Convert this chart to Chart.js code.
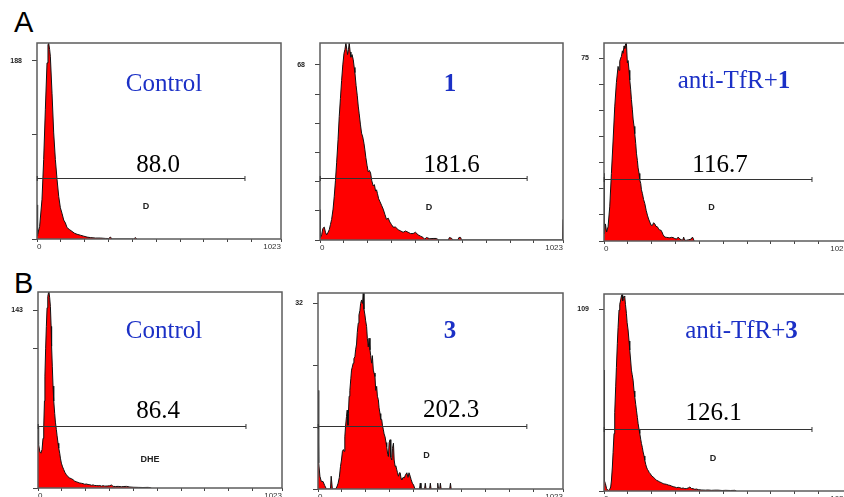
<!DOCTYPE html>
<html>
<head>
<meta charset="utf-8">
<script src="https://cdn.jsdelivr.net/npm/chart.js@4.4.0/dist/chart.umd.min.js"></script>
<style>
  html, body { margin: 0; padding: 0; background: #fff; }
  #wrap { position: relative; width: 844px; height: 497px; overflow: hidden; }
  #wrap canvas { position: absolute; }
  .letter { position: absolute; font-family: "Liberation Sans", Arial, sans-serif; font-size: 29px; line-height: 1; color: #000; }
</style>
</head>
<body>
<div id="wrap">
  <div class="letter" style="left:14px; top:8px;">A</div>
  <div class="letter" style="left:14px; top:269px;">B</div>
</div>
<script>
// histogram channels (0-1023) and event counts, row A then row B
const chA1  = [0, 1, 4, 11, 21, 28, 35, 42, 46, 49, 53, 56, 63, 70, 77, 84, 91, 98, 105, 112, 119, 126, 136, 147, 158, 168, 182, 196, 210, 224, 245, 266, 287, 300, 308, 315, 405, 413, 418];
const cntA1 = [36, 3, 5, 13, 42, 84, 137, 186, 205, 207, 200, 193, 154, 112, 84, 63, 45, 33, 27, 20, 17, 12, 10, 8, 6, 5, 4, 3, 2, 1.5, 1, 1, 0.6, 0.5, 2, 0, 0, 1.5, 0];

const chA2  = [0, 2, 7, 12, 18, 23, 28, 34, 39, 44, 49, 55, 60, 65, 70, 76, 81, 86, 91, 96, 101, 105, 109, 113, 116, 120, 123, 127, 130, 135, 140, 144, 147, 152, 157, 161, 165, 170, 175, 180, 185, 189, 193, 198, 203, 208, 213, 218, 224, 229, 234, 238, 242, 247, 252, 259, 266, 273, 280, 287, 294, 301, 308, 318, 329, 340, 350, 360, 371, 381, 392, 402, 413, 423, 434, 441, 448, 462, 476, 490, 500, 540, 545, 555, 560, 580, 585, 592, 596, 1021, 1023];
const cntA2 = [11.7, 1, 2, 4.5, 5, 3, 2, 3, 4, 6, 8, 12, 17, 23, 30, 39, 48, 55, 62, 68, 72.5, 74, 76.5, 74, 72, 74, 76.5, 73, 71, 72, 70, 67, 65, 60, 56, 52, 49, 45, 41.5, 40, 37.6, 35, 32, 29, 26.5, 27, 26, 23, 21, 21.5, 19, 19.5, 18, 16, 15, 13.5, 12, 10, 8, 8.5, 7, 6, 5, 5, 4, 3.5, 3, 3.5, 3, 2.5, 2.5, 3, 2, 1.5, 1, 0.3, 1, 0.5, 0.6, 0.6, 0, 0, 1, 0.6, 0, 0, 1, 1, 0, 0, 8];

const chA3  = [0, 2, 6, 11, 17, 24, 31, 38, 45, 52, 59, 63, 66, 70, 73, 77, 80, 84, 87, 91, 94, 98, 101, 105, 108, 112, 115, 119, 122, 126, 129, 133, 136, 140, 143, 147, 150, 154, 157, 161, 166, 171, 177, 182, 187, 192, 197, 203, 208, 213, 218, 224, 229, 234, 238, 243, 248, 255, 262, 269, 276, 283, 290, 297, 304, 311, 318, 325, 330, 334, 338, 345, 355, 365, 371, 375, 378];
const cntA3 = [27.7, 3, 7, 3.7, 5.8, 14, 27.7, 41, 55, 65, 71.6, 70, 73.7, 75, 75.7, 78, 77, 80, 79, 81, 81.2, 73, 74, 70, 66, 62, 58, 53.8, 50, 47, 44, 40, 36, 33, 30, 27.7, 25, 23.6, 21, 19.5, 17, 15.4, 12.5, 10.6, 9, 7.8, 6.5, 6.4, 7.5, 7, 6, 5.8, 5, 4.4, 4.5, 3.7, 2.5, 1.6, 1.5, 1.4, 1.3, 1.5, 1.4, 1, 0.8, 1.6, 0.8, 0.5, 0.3, 1.6, 0.3, 0.3, 0.5, 0.8, 1.6, 0.8, 0];

const chB1  = [0, 1, 4, 8, 12, 17, 21, 24, 27, 29, 32, 35, 38, 41, 44, 46, 49, 52, 55, 57, 60, 63, 66, 70, 73, 77, 80, 84, 87, 91, 94, 98, 103, 108, 113, 119, 126, 133, 140, 147, 154, 161, 168, 175, 182, 189, 196, 203, 210, 217, 224, 231, 238, 245, 252, 259, 266, 273, 280, 290, 300, 308, 315, 325, 336, 350, 360, 371, 385, 400, 420, 440, 462, 475];
const cntB1 = [49, 38, 35, 29, 28, 31, 40, 49, 70, 90, 112, 130, 145, 154, 157, 157.7, 153, 146, 130, 114, 98, 82, 70, 60, 53, 47, 42, 36, 32, 28, 24, 20, 17, 14.7, 12.5, 10.7, 9, 8, 7.5, 6.7, 5.5, 5, 4.5, 4, 3.8, 3.5, 3, 3.2, 2.8, 2.7, 2.2, 2.5, 2, 2, 1.8, 2, 1.5, 1.9, 1.5, 1.6, 1.8, 2.4, 1.3, 1.2, 1.3, 1, 1.2, 1.3, 0.8, 0.6, 0.5, 0.4, 0.5, 0];

const chB2  = [0, 2, 4, 8, 14, 21, 28, 35, 52, 55, 58, 60, 74, 80, 84, 89, 94, 98, 102, 106, 109, 112, 115, 119, 122, 125, 127, 130, 133, 137, 140, 143, 147, 150, 154, 157, 161, 164, 168, 171, 175, 178, 182, 186, 189, 192, 196, 199, 203, 206, 210, 213, 217, 220, 224, 227, 231, 234, 238, 241, 245, 248, 252, 255, 259, 262, 266, 269, 273, 276, 280, 284, 287, 291, 294, 297, 301, 304, 308, 311, 315, 318, 322, 325, 329, 332, 336, 340, 343, 347, 350, 355, 360, 365, 371, 376, 380, 385, 389, 394, 399, 405, 424, 427, 430, 445, 448, 451, 466, 469, 472, 497, 500, 503, 508, 511, 514, 550, 553, 556];
const cntB2 = [17, 8, 4.5, 2.2, 1.3, 1.3, 0.6, 0, 0, 2.2, 2.2, 0, 0, 0.5, 1, 2, 3.9, 5, 6.5, 6.8, 6.5, 9, 10.8, 12.5, 13.6, 11, 13, 16, 17, 19, 20.5, 21, 21.7, 22.5, 22.8, 24, 25, 27, 28.6, 30, 30.8, 32, 32.6, 32, 33.8, 31, 30, 29, 28, 26, 24.5, 26, 24, 23, 21.7, 23, 20.5, 20, 19.4, 17, 17.7, 16, 15.4, 14, 13, 12, 12, 11, 10.2, 9.5, 9, 8, 7.3, 6, 5.6, 8, 8.5, 5.5, 5, 7, 7.9, 5, 3.9, 4, 3.3, 2.8, 2.2, 2.8, 2.8, 1.8, 1.6, 2, 1.9, 2.4, 2.8, 2, 2.8, 2.2, 1.6, 1, 0.7, 0, 0, 1, 0, 0, 1, 0, 0, 1, 0, 0, 1, 0, 0, 1, 0, 0, 1, 0];

const chB3  = [0, 1, 3, 6, 11, 16, 20, 24, 28, 31, 35, 38, 42, 45, 49, 52, 56, 59, 63, 66, 70, 73, 76, 78, 81, 84, 87, 90, 94, 97, 101, 105, 108, 112, 115, 118, 122, 126, 129, 133, 136, 140, 143, 147, 150, 154, 157, 161, 164, 168, 171, 175, 178, 182, 185, 190, 194, 200, 206, 213, 220, 227, 234, 241, 248, 255, 262, 269, 276, 283, 290, 297, 304, 311, 318, 325, 332, 339, 346, 353, 360, 367, 374, 381, 388, 395, 410, 425, 437, 450, 465, 478, 495, 510, 530, 548, 555];
const cntB3 = [72.5, 10, 6, 4.4, 1.4, 0.5, 0.4, 1, 2.4, 6, 14.4, 23, 34.5, 47, 62.5, 74, 88.6, 98, 108.6, 112, 114.6, 117, 118, 114, 115.6, 117, 116.6, 112, 106.6, 101, 96.6, 90, 84.6, 78, 72.5, 70, 66.5, 60, 56.5, 52, 48.5, 44, 40.5, 37, 34.5, 31, 28.5, 26, 23.4, 21, 18.4, 16, 14.4, 13, 12.4, 11, 10.4, 9, 8.4, 7.5, 6.4, 6, 5.4, 5, 4.4, 4.2, 4, 3.6, 3.4, 3, 2.6, 2.4, 2, 2.2, 2, 1.6, 1.8, 1.4, 1.5, 1.8, 2.4, 1.5, 1.4, 1, 1.2, 0.8, 0.6, 0.5, 0.6, 0.4, 0.5, 0.5, 0.3, 0.4, 0.3, 0.4, 0];

const panelTitles = ['Control', '1', 'anti-TfR+1', 'Control', '3', 'anti-TfR+3'];
const titleBold   = ['', '1', '1', '', '3', '3'];
const meanValues  = ['88.0', '181.6', '116.7', '86.4', '202.3', '126.1'];
const gateTags    = ['D', 'D', 'D', 'DHE', 'D', 'D'];
const gateLevels  = [64.7, 24.2, 25.4, 50, 10.9, 37.5];
const gateRange   = [1, 872];
const countMax    = [207, 76.5, 81.2, 157.7, 33.8, 118.2];
const countLabels = [188, 68, 75, 143, 32, 109];
const countTicks  = [
  [0, 110, 188],
  [0, 11.33, 22.67, 34, 45.33, 56.67, 68],
  [0, 10.71, 21.43, 32.14, 42.86, 53.57, 64.29, 75],
  [0, 112, 143],
  [0, 10.67, 21.33, 32],
  [0, 109]
];
const channelTicks = [0, 100, 200, 300, 400, 500, 600, 700, 800, 900, 1023];

const channels = [chA1, chA2, chA3, chB1, chB2, chB3];
const counts   = [cntA1, cntA2, cntA3, cntB1, cntB2, cntB3];

// plot boxes on the page: left, top, width, height
const plotBoxes = [
  [37, 43, 244, 196], [320, 43, 243, 197], [604, 43, 244, 198],
  [38, 292, 244, 196], [318, 293, 245, 196], [604, 294, 244, 197]
];
// text spots inside each plot (offsets from plot top-left)
const titleAt = [[127, 47.7], [130, 47.7], [130, 45.3], [126, 46.3], [132, 45.3], [137.5, 44.3]];
const valueAt = [[121, 128.7], [131.7, 128.7], [116, 128.7], [120, 125.7], [133, 124.3], [109.5, 126]];
const tagAt   = [[109, 164], [109, 164.7], [107.4, 165], [112, 168], [108.4, 162.7], [109, 164.3]];

// the y scale reserves half a label + tick padding above the plot, so keep padTop above that
const axisW = 36, axisH = 16, padTop = 16, padRight = 6;
const sans = '"Liberation Sans", Arial, sans-serif';
const serif = '"Liberation Serif", "Times New Roman", serif';

const panelDecor = {
  id: 'panelDecor',
  afterDraw(chart, args, o) {
    const { ctx, chartArea: a, scales: { x, y } } = chart;
    const i = o.idx;
    ctx.save();

    // frame
    ctx.strokeStyle = '#5c5c5c';
    ctx.lineWidth = 1.5;
    ctx.strokeRect(a.left, a.top, a.right - a.left, a.bottom - a.top);

    // gate marker with end ticks
    const gy = Math.round(y.getPixelForValue(gateLevels[i])) + 0.5;
    const gx0 = x.getPixelForValue(gateRange[0]);
    const gx1 = x.getPixelForValue(gateRange[1]);
    ctx.strokeStyle = '#333';
    ctx.lineWidth = 1;
    ctx.beginPath();
    ctx.moveTo(gx0, gy); ctx.lineTo(gx1, gy);
    ctx.moveTo(gx0, gy - 2.5); ctx.lineTo(gx0, gy + 2.5);
    ctx.moveTo(gx1, gy - 2.5); ctx.lineTo(gx1, gy + 2.5);
    ctx.stroke();

    // title, trailing part in bold
    const bold = titleBold[i];
    const plain = panelTitles[i].slice(0, panelTitles[i].length - bold.length);
    const fPlain = '25px ' + serif, fBold = 'bold 25px ' + serif;
    ctx.font = fPlain; const w1 = ctx.measureText(plain).width;
    ctx.font = fBold;  const w2 = ctx.measureText(bold).width;
    const tx = a.left + titleAt[i][0] - (w1 + w2) / 2;
    const ty = a.top + titleAt[i][1];
    ctx.fillStyle = '#1b30c6';
    ctx.textAlign = 'left';
    ctx.textBaseline = 'alphabetic';
    ctx.font = fPlain; ctx.fillText(plain, tx, ty);
    ctx.font = fBold;  ctx.fillText(bold, tx + w1, ty);

    // mean fluorescence value
    ctx.fillStyle = '#000';
    ctx.textAlign = 'center';
    ctx.font = '25px ' + serif;
    ctx.fillText(meanValues[i], a.left + valueAt[i][0], a.top + valueAt[i][1]);

    // gate name
    ctx.font = 'bold 9px ' + sans;
    ctx.fillStyle = '#222';
    ctx.textBaseline = 'middle';
    ctx.fillText(gateTags[i], a.left + tagAt[i][0], a.top + tagAt[i][1]);
    ctx.restore();
  }
};

const wrap = document.getElementById('wrap');

plotBoxes.forEach((b, i) => {
  const cv = document.createElement('canvas');
  const w = b[2] + axisW + padRight, h = b[3] + padTop + axisH;
  cv.width = w; cv.height = h;
  cv.style.left = (b[0] - axisW) + 'px';
  cv.style.top = (b[1] - padTop) + 'px';
  cv.style.width = w + 'px';
  cv.style.height = h + 'px';
  wrap.appendChild(cv);

  const pts = channels[i].map((c, k) => ({ x: c, y: counts[i][k] }));

  new Chart(cv, {
    type: 'line',
    data: {
      datasets: [{
        data: pts,
        borderColor: '#111',
        borderWidth: 1,
        backgroundColor: '#ff0000',
        fill: 'origin',
        pointRadius: 0,
        tension: 0
      }]
    },
    options: {
      responsive: false,
      animation: false,
      events: [],
      layout: { padding: { top: padTop, right: padRight, left: 0, bottom: 0 } },
      plugins: {
        legend: { display: false },
        tooltip: { enabled: false },
        panelDecor: { idx: i }
      },
      scales: {
        x: {
          type: 'linear',
          min: 0,
          max: 1023,
          afterBuildTicks: s => { s.ticks = channelTicks.map(v => ({ value: v })); },
          afterFit: s => { s.height = axisH; },
          ticks: {
            autoSkip: false,
            maxRotation: 0,
            align: 'inner',
            padding: 0,
            color: '#333',
            font: { family: sans, size: 8 },
            callback: v => (v === 0 || v === 1023) ? String(v) : ''
          },
          grid: { display: true, drawOnChartArea: false, drawTicks: true, tickLength: 3, color: '#444' },
          border: { display: false }
        },
        y: {
          type: 'linear',
          min: 0,
          max: countMax[i],
          afterBuildTicks: s => { s.ticks = countTicks[i].map(v => ({ value: v })); },
          afterFit: s => { s.width = axisW; },
          ticks: {
            autoSkip: false,
            padding: 10,
            color: '#222',
            font: { family: sans, size: 7, weight: 'bold' },
            callback: v => v === countLabels[i] ? String(v) : ''
          },
          grid: { display: true, drawOnChartArea: false, drawTicks: true, tickLength: 5, color: '#444' },
          border: { display: false }
        }
      }
    },
    plugins: [panelDecor]
  });
});
</script>
</body>
</html>
